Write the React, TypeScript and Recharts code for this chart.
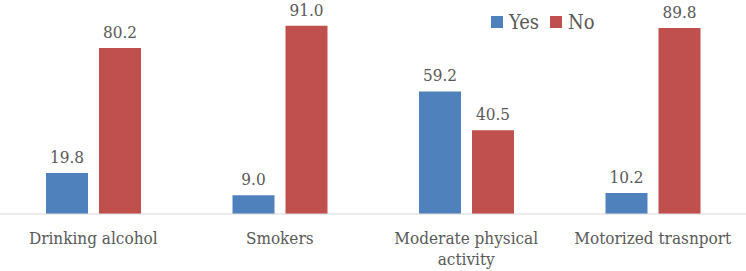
import { Bar, BarChart, LabelList, Legend, XAxis, YAxis } from "recharts";

const categories = ["Drinking alcohol", "Smokers", "Moderate physical activity", "Motorized trasnport"];
const yesValues = [19.8, 9.0, 59.2, 10.2];
const noValues = [80.2, 91.0, 40.5, 89.8];
const seriesNames = ["Yes", "No"];

const BLUE = "#4f81bd";
const RED = "#c0504d";
const TEXT = "#595959";
const FONT = "'DejaVu Serif Condensed', 'DejaVu Serif', serif";

const data = categories.map((name, i) => ({ name, yes: yesValues[i], no: noValues[i] }));
const legendItems = [
  { label: seriesNames[0], color: BLUE },
  { label: seriesNames[1], color: RED },
];

let ctx: CanvasRenderingContext2D | null = null;
function measure(s: string) {
  if (!ctx) ctx = document.createElement("canvas").getContext("2d");
  if (!ctx) return s.length * 9;
  ctx.font = `17px ${FONT}`;
  return ctx.measureText(s).width;
}

// greedy word wrap, like the category labels in the original
function wrap(label: string, maxWidth: number) {
  const lines: string[] = [];
  let cur = "";
  for (const w of label.split(" ")) {
    const next = cur ? cur + " " + w : w;
    if (cur && measure(next) > maxWidth) {
      lines.push(cur);
      cur = w;
    } else cur = next;
  }
  if (cur) lines.push(cur);
  return lines;
}

function CategoryTick(props: any) {
  const { x, y, payload } = props;
  const lines = wrap(String(payload.value), 180);
  return (
    <text x={x} y={y} textAnchor="middle" fill={TEXT} fontFamily={FONT} fontSize={17}>
      {lines.map((ln, i) => (
        <tspan key={i} x={x} dy={i === 0 ? 14 : 21}>
          {ln}
        </tspan>
      ))}
    </text>
  );
}

function LegendBox() {
  return (
    <div style={{ display: "flex", alignItems: "center", fontFamily: FONT, fontSize: 20, color: TEXT, lineHeight: "24px" }}>
      {legendItems.map((it, i) => (
        <span key={it.label} style={{ display: "flex", alignItems: "center", marginRight: i === 0 ? 11 : 0 }}>
          <span style={{ width: 12, height: 12, background: it.color, display: "inline-block", marginRight: 6 }} />
          {it.label}
        </span>
      ))}
    </div>
  );
}

const fmt = (v: any) => Number(v).toFixed(1);

export default function App() {
  return (
    <div style={{ width: 746, height: 271, background: "#fff" }}>
      <style>{`body{margin:0}`}</style>
      <BarChart
        width={746}
        height={271}
        data={data}
        margin={{ top: 7, right: 0, bottom: 0, left: 0 }}
        barSize={42}
        barGap={11}
      >
        <XAxis
          dataKey="name"
          height={57}
          interval={0}
          tickLine={false}
          tickSize={6}
          tickMargin={10}
          stroke="#d9d9d9"
          tick={CategoryTick}
        />
        <YAxis hide domain={[0, 100]} />
        <Legend
          layout="horizontal"
          verticalAlign="middle"
          align="center"
          content={<LegendBox />}
          wrapperStyle={{ top: 10, left: 491, width: "auto" }}
        />
        <Bar dataKey="yes" name={seriesNames[0]} fill={BLUE} isAnimationActive={false}>
          <LabelList dataKey="yes" position="top" offset={10} formatter={fmt} fill={TEXT} fontFamily={FONT} fontSize={17} />
        </Bar>
        <Bar dataKey="no" name={seriesNames[1]} fill={RED} isAnimationActive={false}>
          <LabelList dataKey="no" position="top" offset={10} formatter={fmt} fill={TEXT} fontFamily={FONT} fontSize={17} />
        </Bar>
      </BarChart>
    </div>
  );
}
